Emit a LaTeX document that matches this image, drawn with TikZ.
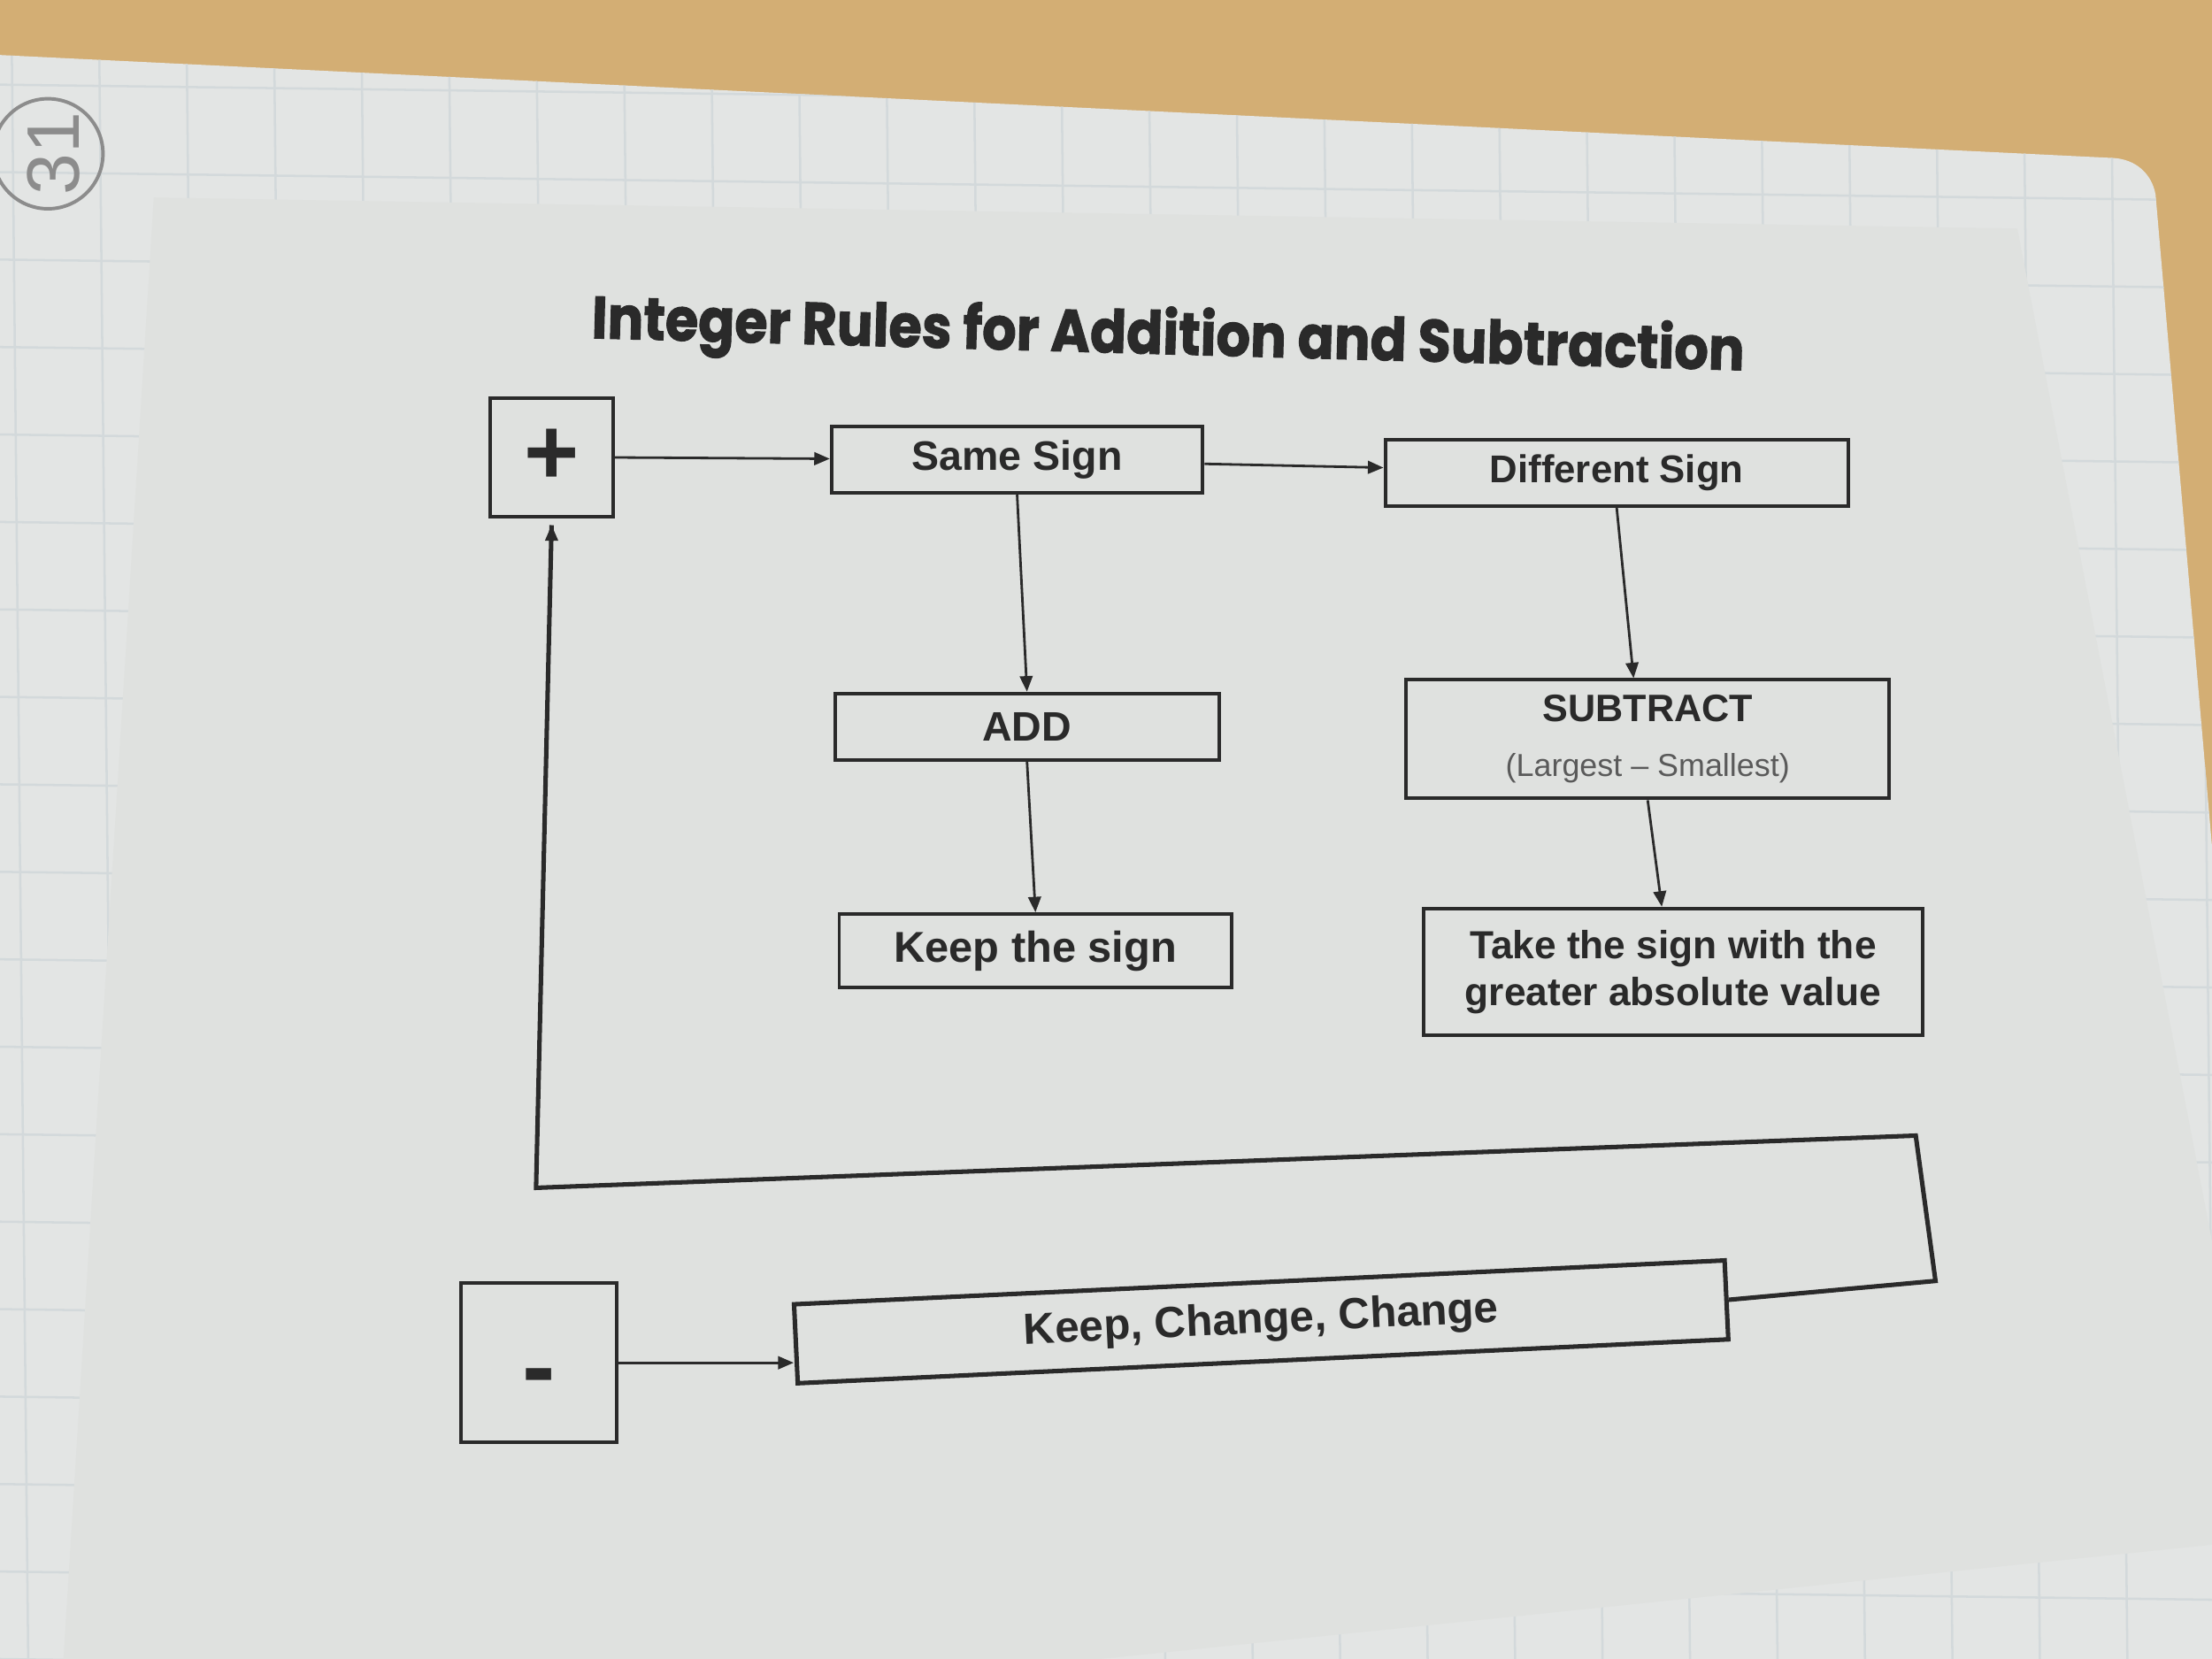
\documentclass[tikz,border=0pt]{standalone}
\usepackage{fontspec}
\setmainfont{Liberation Sans}
\newfontfamily\titlefont{Poppins}[BoldFeatures={FakeBold=1.6}]
\usetikzlibrary{arrows.meta,positioning}
\definecolor{wood}{HTML}{D3AE74}
\definecolor{gridpaper}{HTML}{E3E5E4}
\definecolor{gridline}{HTML}{D3D9DB}
\definecolor{sheet}{HTML}{DFE1DF}
\definecolor{ink}{HTML}{2A2A2A}
\definecolor{subgray}{HTML}{5A5A5A}
\definecolor{pencil}{HTML}{8C8C8C}

\begin{document}
\begin{tikzpicture}[x=0.01cm, y=-0.01cm,
  box/.style={draw=ink, line width=0.7pt, inner sep=0pt, text=ink, font=\fontsize{8.3}{10}\bfseries, minimum height=4.7mm},
  signbox/.style={box, minimum width=8.7mm, minimum height=8.4mm},
  arr/.style={draw=ink, line width=0.5pt, -{Triangle[length=1.1mm, width=0.9mm]}},
  loop/.style={draw=ink, line width=0.9pt}]
\useasboundingbox (0,0) rectangle (1568,1176);
% photo background: desk, grid notebook, printed sheet
\fill[wood] (0,0) rectangle (1568,1176);
\fill[gridpaper] (0,39) -- (1498,112) to[out=-3,in=100] (1528,138) -- (1568,600) -- (1568,1176) -- (0,1176) -- cycle;
\begin{scope}
  \clip (0,39) -- (1498,112) to[out=-3,in=100] (1528,138) -- (1568,600) -- (1568,1176) -- (0,1176) -- cycle;
  \foreach \gx in {8,70,...,1568} \draw[gridline, line width=0.45pt] (\gx,0) -- (\gx+12,1176);
  \foreach \gy in {60,122,...,1176} \draw[gridline, line width=0.45pt] (0,\gy) -- (1568,\gy+20);
\end{scope}
\fill[sheet] (109,140) -- (1430,162) -- (1568,880) -- (1568,1095) -- (780,1176) -- (45,1176) -- cycle;
\draw[pencil, line width=0.7pt] (34,109) circle[radius=39];
\node[pencil, rotate=90, font=\fontsize{15}{15}\selectfont] (page) at (38,109) {31};

% title
\node[text=ink, rotate=-1.6, font=\titlefont\bfseries\fontsize{12}{14}\selectfont] (title) at (828,240) {\scalebox{0.9}[1]{Integer Rules for Addition and Subtraction}};

% addition
\node[signbox, font=\fontsize{19}{19}\bfseries] (plus) at (391,324) {+};
\node[box, minimum width=26.3mm] (same) at (721,326) {Same Sign};
\node[box, minimum width=32.8mm, font=\fontsize{7.8}{9}\bfseries] (diff) at (1146,335) {Different Sign};
\node[box, minimum width=27.2mm] (add) at (728,515) {ADD};
\node[box, minimum width=34.2mm, minimum height=8.4mm, align=center, font=\fontsize{7.7}{9}\bfseries] (sub) at (1168,524) {SUBTRACT\\[2pt]{\fontsize{6.4}{8}\mdseries\color{subgray}(Largest -- Smallest)}};
\node[box, minimum width=27.8mm, minimum height=5.2mm, font=\fontsize{8.7}{10}\bfseries] (keep) at (734,674) {Keep the sign};
\node[box, minimum width=35.4mm, minimum height=9mm, align=center, font=\fontsize{7.9}{9.4}\bfseries] (take) at (1186,689) {Take the sign with the\\greater absolute value};

% subtraction
\node[signbox, minimum width=11mm, minimum height=11.3mm, text height=5.3mm, text depth=0pt, font=\fontsize{20}{20}\bfseries] (minus) at (382,966) {-};
\node[box, loop, minimum width=66mm, minimum height=5.6mm, rotate=2.7, font=\fontsize{8.8}{10}\bfseries] (kcc) at (894,937) {Keep, Change, Change};
\coordinate (turnA) at (1372,908);
\coordinate (turnB) at (1358,805);
\coordinate (turnC) at (380,842);

\draw[arr] (plus) -- (same);
\draw[arr] (same) -- (diff);
\draw[arr] (same.south) -- (add.north);
\draw[arr] (diff.south) -- ([xshift=-1mm]sub.north);
\draw[arr] (add.south) -- (keep.north);
\draw[arr] (sub.south) -- ([xshift=-0.8mm]take.north);
\draw[arr] (minus.east) -- (minus.east -| kcc.west);
\draw[loop] (kcc.east) -- (turnA) -- (turnB) -- (turnC) -- ([yshift=-0.5mm]plus.south);
\draw[arr] ([yshift=-1.5mm]plus.south) -- ([yshift=-0.5mm]plus.south);
\end{tikzpicture}
\end{document}
